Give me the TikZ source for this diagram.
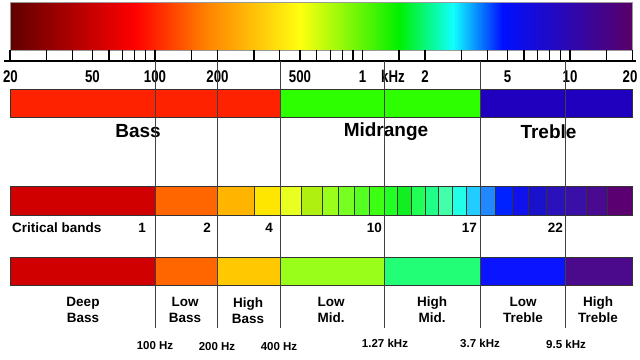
\documentclass[tikz,border=0pt]{standalone}
\usepackage{fontspec}
\setmainfont{Liberation Sans}
\newfontfamily\narrowfont{Liberation Sans}[FakeStretch=0.78]
\definecolor{gDark}{HTML}{600000}
\definecolor{gRed}{HTML}{FF0000}
\definecolor{gOrange}{HTML}{FF8000}
\definecolor{gYellow}{HTML}{FFFF10}
\definecolor{gGreen}{HTML}{00F000}
\definecolor{gCyan}{HTML}{10FFFF}
\definecolor{gBlue}{HTML}{0010FF}
\definecolor{gPurple}{HTML}{580068}
\definecolor{bassC}{HTML}{FF2200}
\definecolor{midC}{HTML}{2EFF00}
\definecolor{trebC}{HTML}{2000BE}
\definecolor{cb1}{HTML}{D00000}
\definecolor{cb2}{HTML}{FF6600}
\definecolor{cb3}{HTML}{FFB400}
\definecolor{cb4}{HTML}{FFE600}
\definecolor{cb5}{HTML}{E8FF20}
\definecolor{cb6}{HTML}{B0F010}
\definecolor{cb7}{HTML}{99FF1A}
\definecolor{cb8}{HTML}{77FF22}
\definecolor{cb9}{HTML}{55FF22}
\definecolor{cb10}{HTML}{3CFF11}
\definecolor{cb11}{HTML}{22FF22}
\definecolor{cb12}{HTML}{11EE22}
\definecolor{cb13}{HTML}{22FF55}
\definecolor{cb14}{HTML}{22FF88}
\definecolor{cb15}{HTML}{44FFAA}
\definecolor{cb16}{HTML}{22FFE8}
\definecolor{cb17}{HTML}{22CCFF}
\definecolor{cb18}{HTML}{2288FF}
\definecolor{cb19}{HTML}{0022FF}
\definecolor{cb20}{HTML}{1111EE}
\definecolor{cb21}{HTML}{1A11CC}
\definecolor{cb22}{HTML}{2A11BB}
\definecolor{cb23}{HTML}{3A0FA8}
\definecolor{cb24}{HTML}{4A0A90}
\definecolor{cb25}{HTML}{5A0070}
\definecolor{bb1}{HTML}{D00000}
\definecolor{bb2}{HTML}{FF6600}
\definecolor{bb3}{HTML}{FFC800}
\definecolor{bb4}{HTML}{99FF1A}
\definecolor{bb5}{HTML}{22FF77}
\definecolor{bb6}{HTML}{0A14FF}
\definecolor{bb7}{HTML}{4B0A8C}
\tikzset{
  cell/.style={draw=black!80, line width=0.6pt},
  divider/.style={draw=black!75, line width=0.9pt},
  tickline/.style={draw=black, line width=1.1pt},
  axisline/.style={draw=black, line width=2pt},
  toplabel/.style={font=\narrowfont\bfseries\fontsize{17}{17}\selectfont, inner sep=0pt},
  rangelabel/.style={font=\bfseries\fontsize{19}{19}\selectfont, inner sep=0pt},
  cblabel/.style={font=\bfseries\fontsize{13.5}{13.5}\selectfont, inner sep=0pt, anchor=east},
  bandlabel/.style={font=\bfseries\fontsize{13.5}{16}\selectfont, inner sep=0pt, align=center},
  hzlabel/.style={font=\bfseries\fontsize{11.5}{11.5}\selectfont, inner sep=0pt}
}
\begin{document}
\begin{tikzpicture}[x=1pt,y=-1pt]
\useasboundingbox (0,0) rectangle (640,359);
% top gradient
\shade[left color=gDark, right color=gRed] (10,2) rectangle (135.5,50);
\shade[left color=gRed, right color=gOrange] (135,2) rectangle (205.5,50);
\shade[left color=gOrange, right color=gYellow] (205,2) rectangle (300.5,50);
\shade[left color=gYellow, right color=gGreen] (300,2) rectangle (399.5,50);
\shade[left color=gGreen, right color=gCyan] (399,2) rectangle (453.5,50);
\shade[left color=gCyan, right color=gBlue] (453,2) rectangle (502.5,50);
\shade[left color=gBlue, right color=gPurple] (502,2) rectangle (632,50);
\draw[black!40, line width=0.4pt] (10,2) rectangle (632,50);
% ticks
\foreach \xx in {10,46.5,72.4,92.5,109,122.9,134.9,145.5,155,191.5,217.5,254,279.9,300,316.5,330.3,342.4,353,362.5,399,425,461.5,487.4,507.6,524,537.9,549.9,560.5,570,606.5,632.5}{
  \draw[tickline] (\xx,50) -- (\xx,61);
}
\coordinate (axL) at (4,61);
\coordinate (axR) at (636,61);
\draw[axisline] (axL) -- (axR);
% top labels
\node[toplabel] (l20) at (10.5,76.5) {20};
\node[toplabel] (l50) at (92.5,76.5) {50};
\node[toplabel] (l100) at (155,76.5) {100};
\node[toplabel] (l200) at (217.5,76.5) {200};
\node[toplabel] (l500) at (300,76.5) {500};
\node[toplabel] (l1k) at (362.5,76.5) {1};
\node[toplabel] (lkhz) at (393,76.5) {kHz};
\node[toplabel] (l2k) at (425,76.5) {2};
\node[toplabel] (l5k) at (507.6,76.5) {5};
\node[toplabel] (l10k) at (570,76.5) {10};
\node[toplabel] (l20k) at (630,76.5) {20};
% bass / mid / treble bar
\fill[bassC] (10,89) rectangle (280,117.5);
\fill[midC] (280,89) rectangle (480.6,117.5);
\fill[trebC] (480.6,89) rectangle (632,117.5);
\draw[cell] (10,89) rectangle (632,117.5);
\draw[cell] (280,89) -- (280,117.5) (480.6,89) -- (480.6,117.5);
\node[rangelabel] (bass) at (138,131.5) {Bass};
\node[rangelabel] (mid) at (386,131.5) {Midrange};
\node[rangelabel] (treb) at (548.5,131.5) {Treble};
% critical bands
\foreach \a/\b/\c in {10/155/cb1,155/217.5/cb2,217.5/254/cb3,254/280/cb4,280/301.5/cb5,301.5/322/cb6,322/338/cb7,338/354/cb8,354/369/cb9,369/384/cb10,384/397/cb11,397/411/cb12,411/425/cb13,425/438/cb14,438/452/cb15,452/466/cb16,466/480.6/cb17,480.6/495/cb18,495/512/cb19,512/528/cb20,528/546/cb21,546/565.5/cb22,565.5/586/cb23,586/607/cb24,607/632/cb25}{
  \draw[cell, fill=\c] (\a,186.5) rectangle (\b,215.5);
}
\node[font=\bfseries\fontsize{13.5}{13.5}\selectfont, inner sep=0pt, anchor=west] (cbt) at (12,228) {Critical bands};
\node[cblabel] (n1) at (146,228) {1};
\node[cblabel] (n2) at (211,228) {2};
\node[cblabel] (n4) at (273,228) {4};
\node[cblabel] (n10) at (382,228) {10};
\node[cblabel] (n17) at (477,228) {17};
\node[cblabel] (n22) at (563,228) {22};
% bottom bar
\foreach \a/\b/\c in {10/155/bb1,155/217.5/bb2,217.5/280/bb3,280/384/bb4,384/480.6/bb5,480.6/565.5/bb6,565.5/632/bb7}{
  \draw[cell, fill=\c] (\a,257) rectangle (\b,285);
}
\node[bandlabel] (deep) at (83,310) {Deep\\Bass};
\node[bandlabel] (lowb) at (185,309.5) {Low\\Bass};
\node[bandlabel] (highb) at (248,310.5) {High\\Bass};
\node[bandlabel] (lowm) at (331,309.5) {Low\\Mid.};
\node[bandlabel] (highm) at (432,309.5) {High\\Mid.};
\node[bandlabel] (lowt) at (523,310) {Low\\Treble};
\node[bandlabel] (hight) at (598,310) {High\\Treble};
\node[hzlabel] (h100) at (155,345.5) {100 Hz};
\node[hzlabel] (h200) at (217,346.5) {200 Hz};
\node[hzlabel] (h400) at (279,346.5) {400 Hz};
\node[hzlabel] (h1k) at (385,343) {1.27 kHz};
\node[hzlabel] (h37k) at (480,343) {3.7 kHz};
\node[hzlabel] (h95k) at (566,344) {9.5 kHz};
% dividers
\foreach \n/\x in {a/155,b/217.5,c/280,d/384,e/480.6,f/565.5}{
  \coordinate (dt\n) at (\x,61);
  \coordinate (db\n) at (\x,328);
  \draw[divider] (dt\n) -- (db\n);
}
\end{tikzpicture}
\end{document}
